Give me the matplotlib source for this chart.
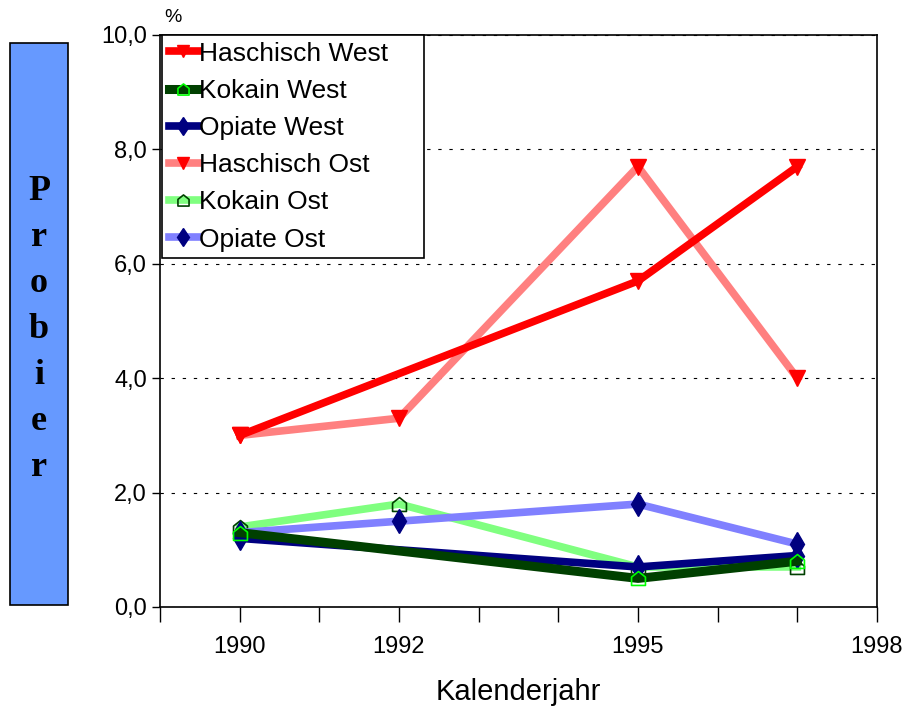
import matplotlib.pyplot as plt
import numpy as np
from matplotlib.path import Path
from matplotlib.patches import Rectangle

plt.rcParams['font.family'] = ['Liberation Sans', 'DejaVu Sans']

# dati
jahre_west = [1990, 1995, 1997]
jahre_ost = [1990, 1992, 1995, 1997]

haschisch_west = [3.0, 5.7, 7.7]
kokain_west = [1.3, 0.5, 0.8]
opiate_west = [1.2, 0.7, 0.9]

haschisch_ost = [3.0, 3.3, 7.7, 4.0]
kokain_ost = [1.4, 1.8, 0.7, 0.7]
opiate_ost = [1.3, 1.5, 1.8, 1.1]

xticks = [1990, 1992, 1995, 1998]
yticks = [0, 2, 4, 6, 8, 10]

# marker a forma di "casetta"
casa = Path([(-1, -1), (1, -1), (1, 0.2), (0, 1), (-1, 0.2), (-1, -1)],
            [Path.MOVETO, Path.LINETO, Path.LINETO, Path.LINETO, Path.LINETO, Path.CLOSEPOLY])

fig = plt.figure(figsize=(9.11, 7.14), dpi=100)
ax = fig.add_axes([160/911, 1-607/714, 717/911, 572/714])

lw = 5.5
# Ost
ax.plot(jahre_ost, haschisch_ost, color='#FF8080', lw=lw, marker='v', ms=11,
        mfc='red', mec='red', label='Haschisch Ost', zorder=3)
ax.plot(jahre_ost, kokain_ost, color='#80FF80', lw=lw, marker=casa, ms=10,
        mfc='none', mec='#004000', mew=1.2, label='Kokain Ost', zorder=3)
ax.plot(jahre_ost, opiate_ost, color='#8080FF', lw=lw, marker='d', ms=12,
        mfc='#000080', mec='#000080', label='Opiate Ost', zorder=3)
# West
ax.plot(jahre_west, haschisch_west, color='red', lw=lw, marker='v', ms=11,
        mfc='red', mec='red', label='Haschisch West', zorder=4)
ax.plot(jahre_west, opiate_west, color='#000080', lw=lw, marker='d', ms=12,
        mfc='#000080', mec='#000080', label='Opiate West', zorder=4)
ax.plot(jahre_west, kokain_west, color='#004000', lw=lw+1, marker=casa, ms=10,
        mfc='none', mec='#00FF00', mew=1.2, label='Kokain West', zorder=5)

ax.set_xlim(1989, 1998)
ax.set_ylim(0, 10)
ax.set_xticks(np.arange(1989, 1999))
ax.set_xticklabels([str(y) if y in xticks else '' for y in range(1989, 1999)], fontsize=17)
ax.set_yticks(yticks)
ax.set_yticklabels([('%.1f' % v).replace('.', ',') for v in yticks], fontsize=17)
ax.tick_params(axis='x', direction='out', length=11, pad=10, width=1)
ax.tick_params(axis='y', direction='out', length=6, width=1)
ax.yaxis.grid(True, linestyle=(0, (3, 7)), color='black', lw=0.8)
ax.set_axisbelow(True)
for s in ax.spines.values():
    s.set_linewidth(1.2)

fig.text(518/911, 1-692/714, 'Kalenderjahr', fontsize=21, ha='center', va='center')
fig.text(164/911, 1-18/714, '%', fontsize=14, va='center')

# legenda
h, l = ax.get_legend_handles_labels()
ordine = ['Haschisch West', 'Kokain West', 'Opiate West', 'Haschisch Ost', 'Kokain Ost', 'Opiate Ost']
hh = [h[l.index(n)] for n in ordine]
leg = ax.legend(hh, [n + '    ' if n == 'Haschisch West' else n for n in ordine],
                loc='upper left', bbox_to_anchor=(0.003, 1.0), fontsize=19,
                handlelength=1.1, handletextpad=0.05, borderaxespad=0, labelspacing=0.5,
                borderpad=0.25, fancybox=False, edgecolor='black', framealpha=1,
                markerscale=0.8)
leg.get_frame().set_linewidth(1.2)

# riquadro blu a sinistra
fig.patches.append(Rectangle((10/911, 1-605/714), 58/911, 562/714, transform=fig.transFigure,
                             facecolor='#6699FF', edgecolor='black', lw=1.2))
lettere = ['P', 'r', 'o', 'b', 'i', 'e', 'r']
for i, c in enumerate(lettere):
    fig.text(39/911, 1-(192+46*i)/714, c, fontsize=26, fontweight='bold',
             family='Liberation Serif', ha='center', va='center')

fig.savefig('out.png', dpi=100)
